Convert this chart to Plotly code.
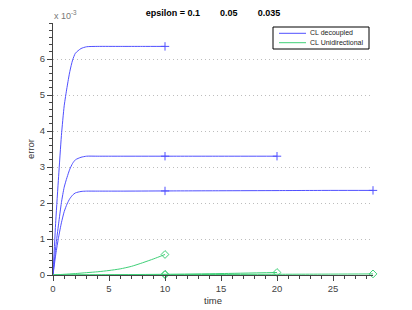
import plotly.graph_objects as go

# ---------------- data (error in units of 1e-3) ----------------
eps_values = ["0.1", "0.05", "0.035"]

t_dec_01 = [0, 0.25, 0.5, 0.75, 1.0, 1.25, 1.5, 1.75, 2.0, 2.5, 3.0, 4, 6, 8, 10]
e_dec_01 = [0, 1.52, 2.73, 3.87, 4.70, 5.21, 5.65, 5.97, 6.16, 6.29, 6.34, 6.35, 6.35, 6.35, 6.35]

t_dec_005 = [0, 0.25, 0.5, 0.75, 1.0, 1.25, 1.5, 1.75, 2.0, 2.5, 3.0, 4, 6, 10, 15, 20]
e_dec_005 = [0, 0.79, 1.42, 2.01, 2.44, 2.71, 2.94, 3.10, 3.20, 3.27, 3.30, 3.30, 3.30, 3.30, 3.30, 3.30]

t_dec_0035 = [0, 0.25, 0.5, 0.75, 1.0, 1.25, 1.5, 1.75, 2.0, 2.5, 3.0, 4, 6, 10, 15, 20, 25, 28.57]
e_dec_0035 = [0, 0.58, 1.05, 1.45, 1.76, 1.97, 2.12, 2.22, 2.28, 2.32, 2.33, 2.33, 2.33, 2.335, 2.34, 2.345, 2.35, 2.35]

t_uni_01 = [0, 1, 2, 3, 4, 5, 6, 7, 8, 9, 10]
e_uni_01 = [0, 0.02, 0.04, 0.065, 0.09, 0.125, 0.17, 0.24, 0.34, 0.45, 0.57]

t_uni_005 = [0, 5, 10, 15, 20]
e_uni_005 = [0, 0.008, 0.02, 0.04, 0.07]

t_uni_0035 = [0, 5, 10, 15, 20, 25, 28.57]
e_uni_0035 = [0, 0.004, 0.01, 0.015, 0.02, 0.025, 0.03]

x_ticks = [0, 5, 10, 15, 20, 25]
y_ticks = [0, 1, 2, 3, 4, 5, 6]
legend_names = ["CL decoupled", "CL Unidirectional"]

# ---------------- style ----------------
BLUE = "#5050ff"
GREEN = "#40d078"
FONT = "Liberation Sans, Arial, sans-serif"
AX = "#444444"

OFF = 8                      # page body margin of the browser
W, H = 412 - OFF, 310 - OFF
L, R, T, B = 45, 39, 15, 35
PW, PH = W - L - R, H - T - B


def px(xp):
    """window pixel x -> paper coordinate"""
    return (xp - OFF - L) / PW


def py(yp):
    """window pixel y -> paper coordinate"""
    return (H + OFF - B - yp) / PH


fig = go.Figure()

decoupled = [(t_dec_01, e_dec_01), (t_dec_005, e_dec_005), (t_dec_0035, e_dec_0035)]
unidir = [(t_uni_01, e_uni_01), (t_uni_005, e_uni_005), (t_uni_0035, e_uni_0035)]


def marker_idx(t):
    idx = [t.index(10), len(t) - 1]
    return sorted(set(idx))


for t, e in decoupled:
    fig.add_trace(go.Scatter(x=t, y=e, mode="lines",
                             line=dict(color=BLUE, width=1, shape="spline", smoothing=0.6),
                             showlegend=False, cliponaxis=False, hoverinfo="skip"))
    ii = marker_idx(t)
    fig.add_trace(go.Scatter(x=[t[i] for i in ii], y=[e[i] for i in ii], mode="markers",
                             marker=dict(symbol="cross-thin", size=6, color=BLUE,
                                         line=dict(color=BLUE, width=1)),
                             showlegend=False, cliponaxis=False, hoverinfo="skip"))

for t, e in unidir:
    fig.add_trace(go.Scatter(x=t, y=e, mode="lines",
                             line=dict(color=GREEN, width=1, shape="spline", smoothing=0.6),
                             showlegend=False, cliponaxis=False, hoverinfo="skip"))
    ii = marker_idx(t)
    fig.add_trace(go.Scatter(x=[t[i] for i in ii], y=[e[i] for i in ii], mode="markers",
                             marker=dict(symbol="diamond-open", size=6, color=GREEN,
                                         line=dict(color=GREEN, width=1)),
                             showlegend=False, cliponaxis=False, hoverinfo="skip"))

sp = "\u00a0" * 8
title_text = "<b>epsilon = " + eps_values[0] + sp + eps_values[1] + sp + eps_values[2] + "</b>"

fig.update_layout(
    width=W, height=H,
    margin=dict(l=L, r=R, t=T, b=B, autoexpand=False),
    paper_bgcolor="white", plot_bgcolor="white",
    font=dict(family=FONT, size=9.5, color=AX),
    showlegend=False,
    title=dict(text=title_text, x=0.5, xref="paper", xanchor="center",
               y=1 - (13 - OFF) / H, yref="container", yanchor="middle",
               font=dict(family=FONT, size=9, color="black")),
    xaxis=dict(range=[0, 28.57], showline=True, linecolor=AX, linewidth=1,
               automargin=False,
               ticks="outside", ticklen=5, tickcolor=AX, tickwidth=1,
               tickmode="array", tickvals=x_ticks, ticktext=[str(v) for v in x_ticks],
               minor=dict(ticks="outside", ticklen=3, tickcolor=AX, tickmode="linear",
                          tick0=0, dtick=1, showgrid=False),
               showgrid=False, zeroline=False,
               tickfont=dict(size=9.5, color=AX),
               title=dict(text="time", standoff=3, font=dict(size=9.5, color="#333333"))),
    yaxis=dict(range=[0, 7], showline=True, linecolor=AX, linewidth=1,
               automargin=False,
               ticks="outside", ticklen=5, tickcolor=AX, tickwidth=1,
               tickmode="array", tickvals=y_ticks, ticktext=[str(v) for v in y_ticks],
               minor=dict(ticks="outside", ticklen=3, tickcolor=AX, tickmode="linear",
                          tick0=0, dtick=0.2, showgrid=False),
               showgrid=True, gridcolor="#bdbdbd", griddash="1px,3px", gridwidth=1,
               zeroline=False,
               tickfont=dict(size=9.5, color=AX),
               title=dict(text="error", standoff=3, font=dict(size=9.5, color="#333333"))),
)

# exponent label
fig.add_annotation(xref="paper", yref="paper", x=px(52), y=py(15), xanchor="left",
                   yanchor="middle", showarrow=False, text="x 10<sup>-3</sup>",
                   font=dict(family=FONT, size=9, color="#777777"))

# manual legend
fig.add_shape(type="rect", xref="paper", yref="paper", x0=px(273), x1=px(369),
              y0=py(49), y1=py(27), line=dict(color="black", width=1), fillcolor="white",
              layer="above")
rows = [(33.3, BLUE, legend_names[0]), (42.7, GREEN, legend_names[1])]
for yy, col, name in rows:
    fig.add_shape(type="line", xref="paper", yref="paper", x0=px(279), x1=px(306),
                  y0=py(yy), y1=py(yy), line=dict(color=col, width=1), layer="above")
    fig.add_annotation(xref="paper", yref="paper", x=px(308), y=py(yy), xanchor="left",
                       yanchor="middle", showarrow=False, text=name,
                       font=dict(family=FONT, size=7, color="#222222"))

fig.write_html("out.html")
